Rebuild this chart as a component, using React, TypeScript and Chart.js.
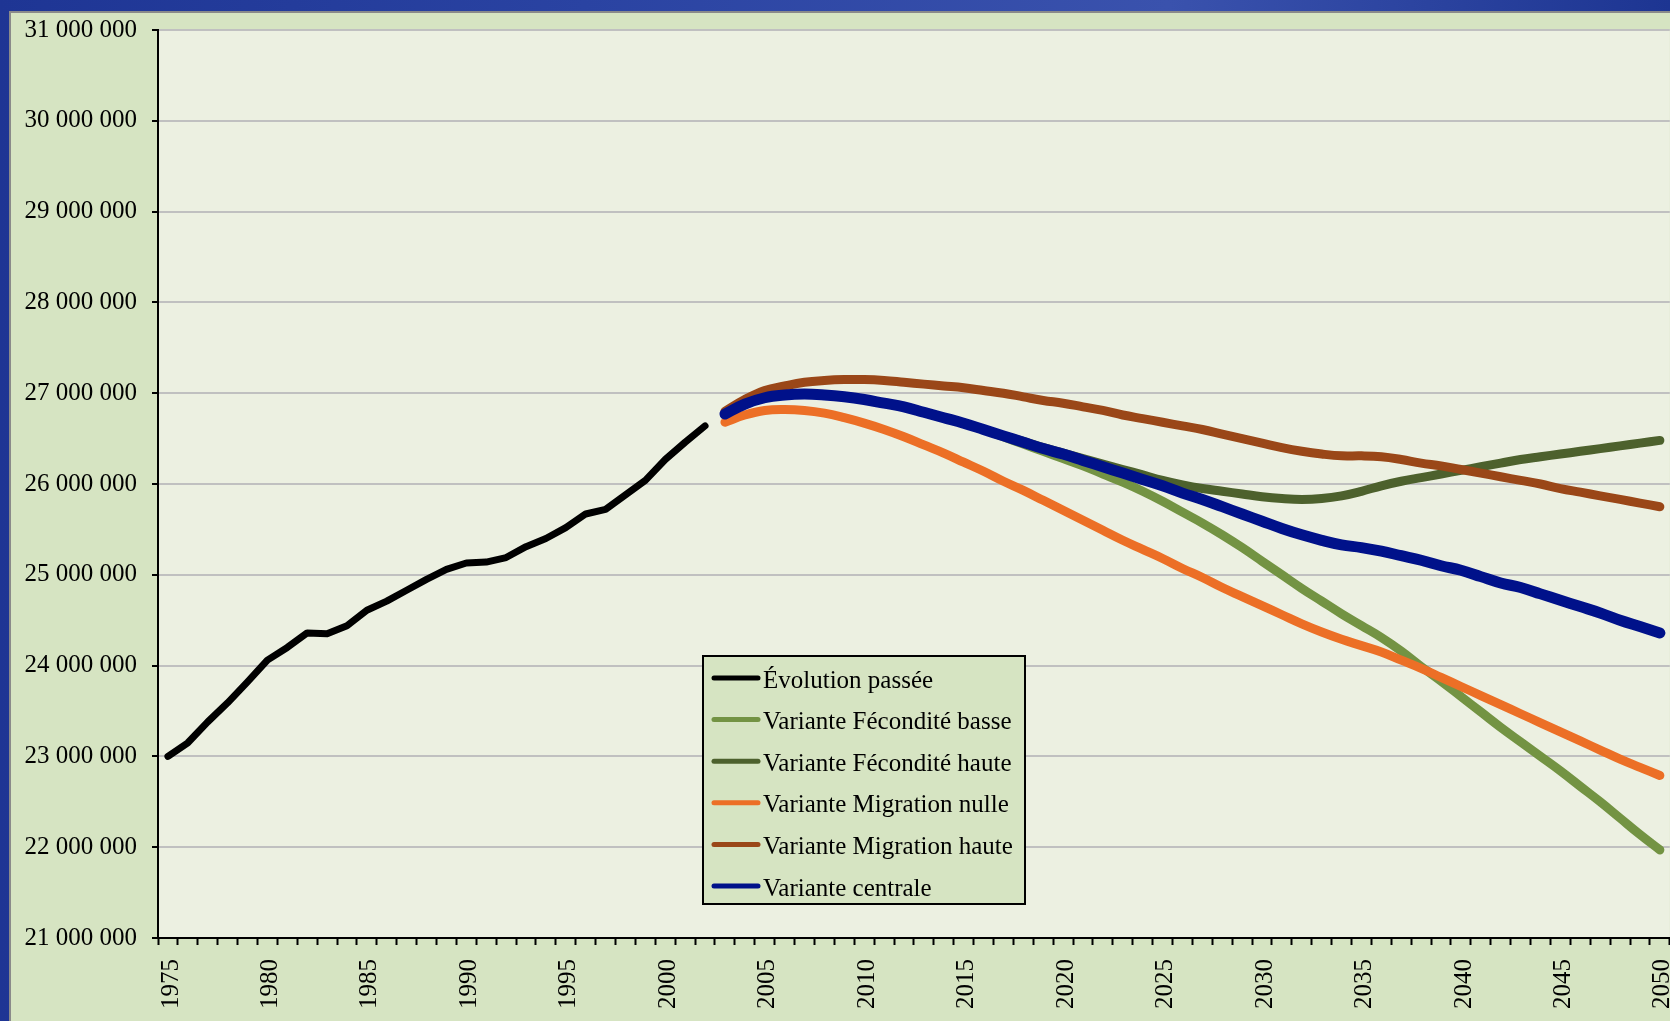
import { useEffect, useRef } from 'react';
import { Chart, registerables } from 'chart.js';
Chart.register(...registerables);

// Categories: years 1975..2050
const years: string[] = [];
for (let y = 1975; y <= 2050; y++) years.push(String(y));

// Values in millions
const pastValues = [
  23.00, 23.15, 23.38, 23.59, 23.82, 24.06, 24.20, 24.36, 24.35, 24.44,
  24.61, 24.71, 24.83, 24.95, 25.06, 25.13, 25.14, 25.19, 25.31, 25.40,
  25.52, 25.67, 25.72, 25.88, 26.04, 26.27, 26.46, 26.64,
];

// Projections 2003..2050
const feconditeBasse = [
  26.77, 26.88, 26.95, 26.98, 26.99, 26.98, 26.96, 26.93, 26.89, 26.85,
  26.79, 26.73, 26.67, 26.60, 26.52, 26.44, 26.36, 26.28, 26.20, 26.11,
  26.02, 25.92, 25.81, 25.69, 25.57, 25.44, 25.30, 25.15, 25.00, 24.85,
  24.71, 24.57, 24.44, 24.31, 24.16, 23.99, 23.83, 23.66, 23.49, 23.32,
  23.16, 23.00, 22.84, 22.67, 22.50, 22.32, 22.14, 21.97,
];
const feconditeHaute = [
  26.77, 26.88, 26.95, 26.98, 26.99, 26.98, 26.96, 26.93, 26.89, 26.85,
  26.79, 26.73, 26.67, 26.60, 26.53, 26.47, 26.40, 26.34, 26.28, 26.22,
  26.16, 26.10, 26.04, 25.99, 25.95, 25.92, 25.89, 25.86, 25.84, 25.83,
  25.84, 25.87, 25.92, 25.98, 26.03, 26.07, 26.11, 26.15, 26.19, 26.23,
  26.27, 26.30, 26.33, 26.36, 26.39, 26.42, 26.45, 26.48,
];
const migrationNulle = [
  26.68, 26.76, 26.81, 26.82, 26.81, 26.78, 26.73, 26.67, 26.60, 26.52,
  26.43, 26.34, 26.24, 26.14, 26.03, 25.93, 25.82, 25.71, 25.60, 25.49,
  25.38, 25.28, 25.18, 25.07, 24.97, 24.86, 24.76, 24.66, 24.56, 24.46,
  24.37, 24.29, 24.22, 24.15, 24.06, 23.97, 23.87, 23.77, 23.67, 23.57,
  23.47, 23.37, 23.27, 23.17, 23.07, 22.97, 22.88, 22.79,
];
const migrationHaute = [
  26.80, 26.93, 27.03, 27.08, 27.12, 27.14, 27.15, 27.15, 27.14, 27.12,
  27.10, 27.08, 27.06, 27.03, 27.00, 26.96, 26.92, 26.89, 26.85, 26.81,
  26.76, 26.72, 26.68, 26.64, 26.60, 26.55, 26.50, 26.45, 26.40, 26.36,
  26.33, 26.31, 26.31, 26.30, 26.27, 26.23, 26.20, 26.16, 26.12, 26.08,
  26.04, 26.00, 25.95, 25.91, 25.87, 25.83, 25.79, 25.75,
];
const centrale = [
  26.77, 26.88, 26.95, 26.98, 26.99, 26.98, 26.96, 26.93, 26.89, 26.85,
  26.79, 26.73, 26.67, 26.60, 26.53, 26.46, 26.39, 26.33, 26.26, 26.19,
  26.12, 26.05, 25.98, 25.90, 25.83, 25.75, 25.67, 25.59, 25.51, 25.44,
  25.38, 25.33, 25.30, 25.26, 25.21, 25.16, 25.10, 25.05, 24.98, 24.91,
  24.86, 24.79, 24.72, 24.65, 24.58, 24.50, 24.43, 24.36,
];

const yMin = 21000000;
const yMax = 31000000;
const yStep = 1000000;

const FONT = '"Liberation Serif", "Times New Roman", serif';
const FONT_SIZE = 25;

function pastSeries(): (number | null)[] {
  return years.map((_, i) => (i < pastValues.length ? pastValues[i] * 1e6 : null));
}
function projSeries(vals: number[]): (number | null)[] {
  const start = years.indexOf('2003');
  return years.map((_, i) => (i >= start ? vals[i - start] * 1e6 : null));
}

function fmt(v: number): string {
  return String(Math.round(v)).replace(/\B(?=(\d{3})+(?!\d))/g, ' ');
}

const plotBg = {
  id: 'plotBg',
  beforeDraw(chart: any) {
    const { ctx, chartArea } = chart;
    ctx.save();
    ctx.fillStyle = '#ecf0e1';
    ctx.fillRect(chartArea.left, chartArea.top, chartArea.right - chartArea.left, chartArea.bottom - chartArea.top);
    ctx.restore();
  },
};

const boxLegend = {
  id: 'boxLegend',
  afterDraw(chart: any) {
    const { ctx, chartArea } = chart;
    const x = chartArea.left + 545;
    const y = chartArea.top + 626;
    const w = 322;
    const h = 248;
    ctx.save();
    ctx.fillStyle = '#d6e4c2';
    ctx.fillRect(x, y, w, h);
    ctx.strokeStyle = '#000';
    ctx.lineWidth = 2;
    ctx.strokeRect(x, y, w, h);
    ctx.font = FONT_SIZE + 'px ' + FONT;
    ctx.textBaseline = 'middle';
    chart.data.datasets.forEach((ds: any, i: number) => {
      const cy = y + 22 + i * 41.6;
      ctx.strokeStyle = ds.borderColor;
      ctx.lineWidth = 5;
      ctx.lineCap = 'round';
      ctx.beginPath();
      ctx.moveTo(x + 11, cy);
      ctx.lineTo(x + 55, cy);
      ctx.stroke();
      ctx.fillStyle = '#000';
      ctx.fillText(ds.label, x + 60, cy + 3);
    });
    ctx.restore();
  },
};

export default function App() {
  const ref = useRef<HTMLCanvasElement>(null);

  useEffect(() => {
    if (!ref.current) return;
    const mk = (label: string, data: (number | null)[], color: string, width: number, order: number, tension: number) => ({
      label,
      data,
      borderColor: color,
      backgroundColor: color,
      borderWidth: width,
      pointRadius: 0,
      pointHoverRadius: 0,
      tension,
      borderCapStyle: 'round' as const,
      borderJoinStyle: 'round' as const,
      fill: false,
      spanGaps: false,
      order,
    });
    const chart = new Chart(ref.current, {
      type: 'line',
      data: {
        labels: years,
        datasets: [
          mk('Évolution passée', pastSeries(), '#000000', 7, 5, 0),
          mk('Variante Fécondité basse', projSeries(feconditeBasse), '#739343', 9, 4, 0.4),
          mk('Variante Fécondité haute', projSeries(feconditeHaute), '#4d612d', 9, 3, 0.4),
          mk('Variante Migration nulle', projSeries(migrationNulle), '#ec6f26', 9, 2, 0.4),
          mk('Variante Migration haute', projSeries(migrationHaute), '#9a4718', 9, 1, 0.4),
          mk('Variante centrale', projSeries(centrale), '#00118a', 11, 0, 0.4),
        ],
      },
      options: {
        animation: false,
        responsive: false,
        devicePixelRatio: 1,
        layout: { padding: { top: 28, right: 20, left: 0, bottom: 0 } },
        plugins: {
          legend: { display: false },
          tooltip: { enabled: false },
        },
        scales: {
          x: {
            type: 'category',
            offset: true,
            afterFit: (s: any) => {
              s.height = 83;
            },
            grid: {
              display: true,
              drawOnChartArea: false,
              drawTicks: true,
              offset: true,
              tickLength: 7,
              tickColor: '#000',
              tickWidth: 2,
              color: '#000',
            },
            border: { display: true, color: '#000', width: 2 },
            ticks: {
              autoSkip: false,
              maxRotation: 90,
              minRotation: 90,
              padding: 14,
              labelOffset: 3,
              color: '#000',
              font: { family: FONT, size: FONT_SIZE },
              callback: (_v: any, i: number) => (Number(years[i]) % 5 === 0 ? years[i] : ''),
            },
          },
          y: {
            min: yMin,
            max: yMax,
            afterFit: (s: any) => {
              s.width = 158;
            },
            grid: {
              color: '#c0c0c0',
              lineWidth: 2,
              drawTicks: true,
              tickLength: 6,
              tickColor: '#000',
              tickWidth: 2,
            },
            border: { display: true, color: '#000', width: 2 },
            ticks: {
              stepSize: yStep,
              padding: 15,
              color: '#000',
              font: { family: FONT, size: FONT_SIZE },
              callback: (v: any) => fmt(Number(v)),
            },
          },
        },
      },
      plugins: [plotBg, boxLegend],
    });
    return () => chart.destroy();
  }, []);

  return (
    <div
      style={{
        position: 'fixed',
        left: 0,
        top: 0,
        width: 1670,
        height: 1021,
        overflow: 'hidden',
        background: 'linear-gradient(90deg, #1e3594 0%, #2a43a2 35%, #3a52ad 70%, #1d3592 100%)',
      }}
    >
      <div
        style={{
          position: 'absolute',
          left: 9,
          top: 11,
          right: 0,
          bottom: 0,
          background: '#d6e4c2',
          borderLeft: '2px solid #8a8a8a',
          borderTop: '2px solid #8a8a8a',
        }}
      />
      <canvas
        ref={ref}
        width={1704}
        height={1021}
        style={{ position: 'absolute', left: 0, top: 0, width: 1704, height: 1021, display: 'block' }}
      />
    </div>
  );
}
